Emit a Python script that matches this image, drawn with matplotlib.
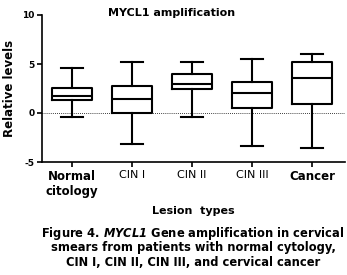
import matplotlib
matplotlib.use("Agg")
from matplotlib import pyplot as plt

groups = ["Normal\ncitology", "CIN I", "CIN II", "CIN III", "Cancer"]
whislo = [-0.4, -3.2, -0.4, -3.4, -3.6]
q1 = [1.3, 0.0, 2.4, 0.5, 0.9]
med = [1.7, 1.4, 3.0, 2.0, 3.6]
q3 = [2.6, 2.8, 4.0, 3.2, 5.2]
whishi = [4.6, 5.2, 5.2, 5.5, 6.0]

stats = []
for i in range(len(groups)):
    stats.append({"whislo": whislo[i], "q1": q1[i], "med": med[i],
                  "q3": q3[i], "whishi": whishi[i], "fliers": []})

fig = plt.figure(figsize=(3.47, 2.75), dpi=100)
ax = fig.add_axes([42 / 347, 1 - 162 / 275, 303 / 347, 147 / 275])

lw = 1.5
ax.bxp(stats, positions=range(1, 6), widths=0.68, showfliers=False,
       boxprops=dict(color="black", linewidth=lw),
       medianprops=dict(color="black", linewidth=lw),
       whiskerprops=dict(color="black", linewidth=lw),
       capprops=dict(color="black", linewidth=lw),
       capwidths=0.38)

ax.axhline(0, color="black", linewidth=0.6, linestyle=(0, (1, 1.5)), zorder=0)

ax.set_xlim(0.5, 5.55)
ax.set_ylim(-5, 10)
ax.set_yticks([-5, 0, 5, 10])
ax.set_yticklabels(["-5", "0", "5", "10"], fontsize=6.5, fontweight="bold")
ax.set_xticks(range(1, 6))
ax.set_xticklabels(groups, fontsize=8)
for lab, bold in zip(ax.get_xticklabels(), [True, False, False, False, True]):
    if bold:
        lab.set_fontweight("bold")
        lab.set_fontsize(8.5)

for s in ["top", "right"]:
    ax.spines[s].set_visible(False)
ax.spines["left"].set_linewidth(1.2)
ax.spines["bottom"].set_linewidth(1.2)
ax.tick_params(width=1.2, length=3.5, pad=2)

ax.set_ylabel("Relative levels", fontsize=8.5, fontweight="bold", labelpad=4)
ax.set_xlabel("Lesion  types", fontsize=8, fontweight="bold", labelpad=6)

fig.text(172 / 347, 1 - 13 / 275, "MYCL1 amplification", ha="center", va="center",
         fontsize=8, fontweight="bold")

cx = 193 / 347
fig.text(cx, 1 - 233 / 275,
         r"Figure 4. $\mathbfit{MYCL1}$ Gene amplification in cervical",
         ha="center", va="center", fontsize=8.3, fontweight="bold")
fig.text(cx, 1 - 248 / 275, "smears from patients with normal cytology,",
         ha="center", va="center", fontsize=8.3, fontweight="bold")
fig.text(cx, 1 - 263 / 275, "CIN I, CIN II, CIN III, and cervical cancer",
         ha="center", va="center", fontsize=8.3, fontweight="bold")

fig.savefig("out.png", dpi=100)
